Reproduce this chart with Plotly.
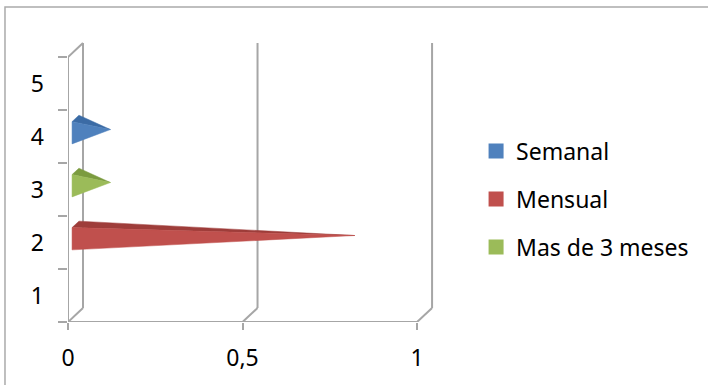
import plotly.graph_objects as go

# Data
categories = [1, 2, 3, 4, 5]
series_names = ["Semanal", "Mensual", "Mas de 3 meses"]
series_category = [4, 2, 3]
series_values = [0.1, 0.8, 0.1]
x_tickvals = [0, 0.5, 1]
x_ticktext = ["0", "0,5", "1"]

front_colors = ["#4F81BD", "#C0504D", "#9BBB59"]
top_colors = ["#3B6BA5", "#9E3D3A", "#7B9B3F"]

# Plot geometry (pixels) and the oblique depth offset of the back wall
W, H = 708, 385
px_left, px_right_unit = 68, 417          # x=0 and x=1 on the front plane
py_bottom, py_top_cat = 322, 57           # y=0.5 and y=5.5 on the front plane
px_per_x = px_right_unit - px_left
px_per_y = (py_bottom - py_top_cat) / 5.0
DX = 15 / px_per_x                        # depth shift in data units
DY = 14 / px_per_y

x_range = [0, 1 + DX + 0.017]
y_range = [0.5, 5.5 + DY + 0.02]
plot_w = (x_range[1] - x_range[0]) * px_per_x
plot_h = (y_range[1] - y_range[0]) * px_per_y
m_l = px_left
m_b = H - py_bottom
m_t = H - m_b - plot_h
m_r = W - m_l - plot_w

GRID = "#A6A6A6"
FONT = "Noto Sans"


def P(x, y, d):
    """Project a point at depth d (0 = front, 1 = back) onto the chart plane."""
    return x + d * DX, y + d * DY


fig = go.Figure()


def add_line(pts):
    fig.add_trace(go.Scatter(
        x=[p[0] for p in pts], y=[p[1] for p in pts], mode="lines",
        line=dict(color=GRID, width=2), hoverinfo="skip", showlegend=False))


# Back wall gridlines and the floor/side diagonals
ymin, ymax = 0.5, 5.5
for xv in x_tickvals:
    add_line([P(xv, ymin, 1), P(xv, ymax, 1)])
    add_line([P(xv, ymin, 0), P(xv, ymin, 1)])
add_line([P(0, ymax, 0), P(0, ymax, 1)])
# Front axis lines
add_line([P(0, ymin, 0), P(1, ymin, 0)])
add_line([P(0, ymin, 0), P(0, ymax, 0)])

# Pyramid bars
half_h, half_d = 0.21, 0.23
for name, cat, val, fc, tc in zip(series_names, series_category, series_values,
                                  front_colors, top_colors):
    d0, d1, dm = 0.5 - half_d, 0.5 + half_d, 0.5
    tip = P(val, cat, dm)
    front = [P(0, cat - half_h, d0), P(0, cat + half_h, d0), tip]
    top = [P(0, cat + half_h, d0), P(0, cat + half_h, d1), tip]
    for face, col in ((top, tc), (front, fc)):
        xs = [p[0] for p in face] + [face[0][0]]
        ys = [p[1] for p in face] + [face[0][1]]
        fig.add_trace(go.Scatter(
            x=xs, y=ys, mode="lines", fill="toself", fillcolor=col,
            line=dict(color=col, width=0.5), hoverinfo="skip", showlegend=False))

# Legend entries, one legend box per series
legend_keys = ["legend", "legend2", "legend3"]
legend_py = [151, 199, 247]
for name, col, key in zip(series_names, front_colors, legend_keys):
    fig.add_trace(go.Scatter(
        x=[None], y=[None], mode="markers", name=name, legend=key,
        marker=dict(symbol="square", size=15, color=col)))

legend_layout = {}
for key, py in zip(legend_keys, legend_py):
    legend_layout[key] = dict(
        x=(476 - m_l) / plot_w, y=(py_bottom - py) / plot_h,
        xanchor="left", yanchor="middle", bgcolor="rgba(0,0,0,0)",
        font=dict(family=FONT, size=23, color="#000000"),
        itemsizing="trace")

fig.update_layout(
    width=W, height=H,
    margin=dict(l=m_l, r=m_r, t=m_t, b=m_b, pad=0),
    paper_bgcolor="white", plot_bgcolor="white",
    font=dict(family=FONT, size=23, color="#000000"),
    xaxis=dict(range=x_range, showgrid=False, zeroline=False, showline=False,
               tickmode="array", tickvals=x_tickvals, ticktext=x_ticktext,
               ticks="outside", ticklen=7, tickwidth=2, tickcolor=GRID,
               ticklabelstandoff=8),
    yaxis=dict(range=y_range, showgrid=False, zeroline=False, showline=False,
               tickmode="array", tickvals=categories,
               ticktext=[str(c) for c in categories],
               ticks="", ticklabelstandoff=23,
               minor=dict(tickmode="array",
                          tickvals=[c - 0.5 for c in categories] + [5.5],
                          ticks="outside", ticklen=9, tickwidth=2,
                          tickcolor=GRID)),
    shapes=[dict(type="rect", xref="paper", yref="paper",
                 x0=(5 - m_l) / plot_w, x1=(W + 20 - m_l) / plot_w,
                 y0=(py_bottom - (H + 20)) / plot_h, y1=(py_bottom - 7) / plot_h,
                 line=dict(color="#ABABAB", width=1.5), layer="below")],
    **legend_layout,
)

fig.write_html("out.html")
